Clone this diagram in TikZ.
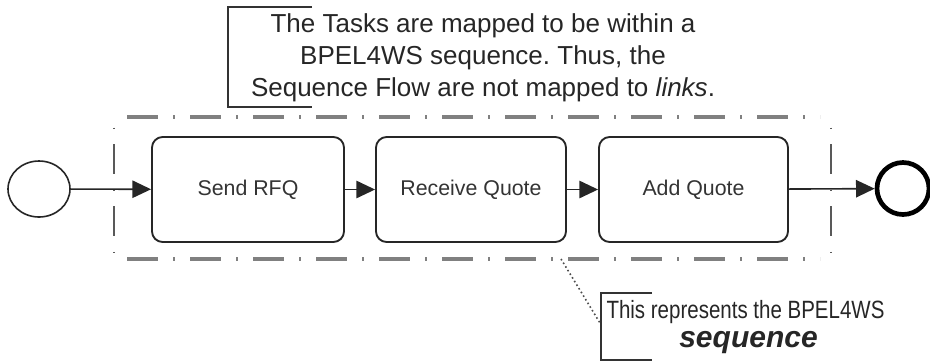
\documentclass[tikz,border=0pt]{standalone}
\usepackage{fontspec}
\setmainfont{Liberation Sans}
\newfontfamily\narrowfont[FakeStretch=0.82]{Liberation Sans}
\usetikzlibrary{arrows.meta,shapes.geometric}
\frenchspacing
\begin{document}
\begin{tikzpicture}[x=0.75pt,y=-0.75pt,
 task/.style={draw=black!85,line width=1.4pt,rounded corners=8pt,minimum height=78.75pt,inner sep=0pt,font=\fontsize{16}{19}\selectfont,text=black!80},
 flow/.style={draw=black!85,line width=1.2pt,-{Triangle[length=14pt,width=13pt]}},
 grph/.style={draw=black!50,line width=2.3pt,dash pattern=on 23.25pt off 11.25pt on 1.5pt off 11.25pt},
 grpv/.style={draw=black!65,line width=1.1pt,dash pattern=on 1.2pt off 11.25pt on 22.5pt off 11.7pt},
 bracket/.style={draw=black!80,line width=1.5pt},
 assoc/.style={draw=black!70,line width=1.2pt,dotted},
 note/.style={inner sep=0pt,text=black!85}
]
\useasboundingbox (0,0) rectangle (930,362);
% group (sides drawn separately)
\coordinate (gtl) at (127,117);
\coordinate (gtr) at (820,117);
\coordinate (gbl) at (127,259);
\coordinate (gbr) at (820,259);
\coordinate (glt) at (114,127.5);
\coordinate (glb) at (114,252);
\coordinate (grt) at (831,127.5);
\coordinate (grb) at (831,252);
\draw[grph] (gtl) -- (gtr);
\draw[grph] (gbl) -- (gbr);
\draw[grpv] (glt) -- (glb);
\draw[grpv] (grt) -- (grb);
% events
\node[ellipse,draw=black!85,line width=1.2pt,minimum width=46.5pt,minimum height=42pt,inner sep=0pt] (start) at (39,189) {};
\node[circle,draw=black,line width=3.5pt,minimum size=39pt,inner sep=0pt] (end) at (903,188.5) {};
% tasks
\node[task,minimum width=144pt] (t1) at (248,189.5) {Send RFQ};
\node[task,minimum width=142.5pt] (t2) at (471,189.5) {Receive Quote};
\node[task,minimum width=141.75pt] (t3) at (693.5,189.5) {Add Quote};
% flows
\draw[flow] (start) -- (t1);
\draw[flow] (t1) -- (t2);
\draw[flow] (t2) -- (t3);
\draw[flow] (t3) -- (end);
% top annotation
\coordinate (a1t) at (312,7);
\coordinate (a1tl) at (228,7);
\coordinate (a1bl) at (228,107);
\coordinate (a1b) at (312,107);
\draw[bracket] (a1t) -- (a1tl) -- (a1bl) -- (a1b);
\node[note,align=center,font=\fontsize{19.5}{24}\selectfont] (txt1) at (483,58)
 {The Tasks are mapped to be within a\\BPEL4WS sequence. Thus, the\\Sequence Flow are not mapped to \textit{links}.};
% bottom annotation
\coordinate (a2t) at (652,293);
\coordinate (a2tl) at (601,293);
\coordinate (a2bl) at (601,360);
\coordinate (a2b) at (652,360);
\coordinate (a2m) at (600,323);
\coordinate (ga) at (561,259);
\draw[bracket] (a2t) -- (a2tl) -- (a2bl) -- (a2b);
\node[note,anchor=base,font=\narrowfont\fontsize{18.75}{22}\selectfont] (txt2) at (745.5,318) {This represents the BPEL4WS};
\node[note,anchor=base,font=\fontsize{22.5}{26}\selectfont\bfseries\itshape] (txt3) at (748.5,347) {sequence};
\draw[assoc] (ga) -- (a2m);
\end{tikzpicture}
\end{document}
